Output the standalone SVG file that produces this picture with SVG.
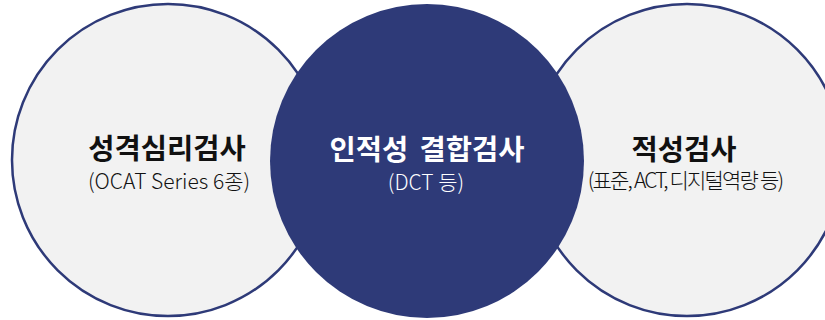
<svg xmlns="http://www.w3.org/2000/svg" width="825" height="320" viewBox="0 0 825 320">
<style>
.side{fill:#F2F2F2;stroke:#2E3A78;stroke-width:2.5}
.mid{fill:#2E3A78}
.t{font-family:"Noto Sans CJK KR","Noto Sans",sans-serif;text-anchor:middle}
.title{font-size:28.5px;font-weight:700}
.sub{font-size:21px;font-weight:300}
.dark{fill:#111111}
.light{fill:#FFFFFF}
</style>
<rect width="825" height="320" fill="#FFFFFF"/>
<g id="node-personality">
<circle class="side" cx="168" cy="160" r="156"/>
<text class="t title dark" x="167" y="159">성격심리검사</text>
<text class="t sub dark" x="169" y="189">(OCAT Series 6종)</text>
</g>
<g id="node-aptitude">
<circle class="side" cx="687" cy="160" r="156"/>
<text class="t title dark" x="684" y="160">적성검사</text>
<text class="t sub dark" x="685" y="188" letter-spacing="-1.8">(표준, ACT, 디지털역량 등)</text>
</g>
<g id="node-combined">
<circle class="mid" cx="427" cy="161" r="157"/>
<text class="t title light" x="427" y="160" word-spacing="5">인적성 결합검사</text>
<text class="t sub light" x="426" y="190">(DCT 등)</text>
</g>
<g id="connectors"></g>
</svg>
